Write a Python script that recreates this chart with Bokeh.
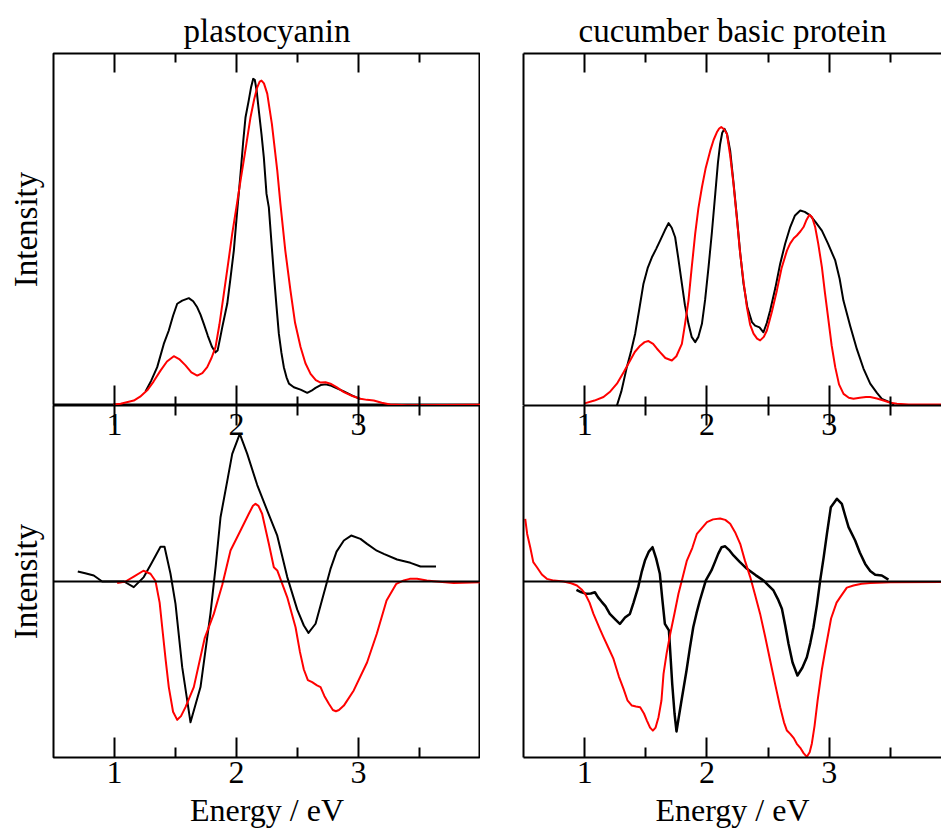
from bokeh.plotting import figure
from bokeh.models import LinearAxis, FixedTicker, Span, Range1d
from bokeh.layouts import column, row
from bokeh.embed import file_html
from bokeh.resources import INLINE

# ---------------- data ----------------
# x: energy / eV, y: intensity (arbitrary units)
panel_titles = ["plastocyanin", "cucumber basic protein"]
major_ticks = [1, 2, 3]
minor_ticks = [1.5, 2.5, 3.5]

# plastocyanin, absorption: experiment (black) and calculation (red)
pc_abs_exp_e = [1.254, 1.30, 1.35, 1.404, 1.445, 1.48, 1.514, 1.555, 1.609, 1.645, 1.678, 1.705, 1.732, 1.765,
                1.80, 1.828, 1.845, 1.865, 1.883, 1.924, 1.95, 1.978, 2.005, 2.033, 2.055, 2.074, 2.10, 2.12,
                2.137, 2.15, 2.165, 2.183, 2.205, 2.224, 2.246, 2.265, 2.285, 2.306, 2.327, 2.347, 2.368,
                2.388, 2.41, 2.43, 2.47, 2.525, 2.58, 2.615, 2.648, 2.69, 2.73, 2.77, 2.80, 2.88, 2.95, 3.016]
pc_abs_exp_i = [0.040, 0.070, 0.109, 0.175, 0.213, 0.255, 0.289, 0.298, 0.305, 0.296, 0.279, 0.258, 0.232, 0.198,
                0.166, 0.151, 0.156, 0.190, 0.222, 0.289, 0.360, 0.440, 0.550, 0.658, 0.750, 0.819, 0.866, 0.905,
                0.928, 0.925, 0.895, 0.838, 0.770, 0.705, 0.601, 0.563, 0.470, 0.374, 0.285, 0.204, 0.150,
                0.109, 0.080, 0.062, 0.052, 0.045, 0.036, 0.042, 0.050, 0.058, 0.060, 0.057, 0.052, 0.040, 0.028, 0.018]
pc_abs_calc_e = [0.99, 1.05, 1.10, 1.158, 1.21, 1.268, 1.32, 1.377, 1.43, 1.486, 1.53, 1.582, 1.63, 1.678, 1.72,
                 1.76, 1.795, 1.828, 1.86, 1.896, 1.93, 1.965, 2.0, 2.033, 2.075, 2.115, 2.145, 2.17, 2.19, 2.205,
                 2.225, 2.252, 2.29, 2.334, 2.36, 2.40, 2.443, 2.48, 2.525, 2.565, 2.607, 2.65, 2.689, 2.73, 2.77,
                 2.82, 2.88, 2.95, 3.016, 3.07, 3.125, 3.19, 3.26, 3.4, 4.0]
pc_abs_calc_i = [0.003, 0.005, 0.009, 0.014, 0.025, 0.043, 0.068, 0.099, 0.125, 0.140, 0.132, 0.114, 0.094, 0.085, 0.092,
                 0.109, 0.135, 0.166, 0.230, 0.317, 0.400, 0.488, 0.565, 0.639, 0.730, 0.819, 0.870, 0.904, 0.920, 0.923,
                 0.915, 0.886, 0.800, 0.668, 0.573, 0.440, 0.325, 0.235, 0.166, 0.120, 0.090, 0.072, 0.065, 0.066, 0.062,
                 0.052, 0.038, 0.027, 0.019, 0.016, 0.014, 0.008, 0.003, 0.001, 0.002]

# cucumber basic protein, absorption
cbp_abs_exp_e = [1.264, 1.30, 1.345, 1.38, 1.413, 1.445, 1.481, 1.515, 1.55, 1.585, 1.618, 1.655, 1.686, 1.712, 1.74,
                 1.765, 1.795, 1.82, 1.849, 1.875, 1.904, 1.93, 1.959, 1.985, 2.013, 2.04, 2.068, 2.09, 2.108, 2.125,
                 2.144, 2.165, 2.19, 2.215, 2.245, 2.27, 2.299, 2.33, 2.368, 2.394, 2.43, 2.462, 2.49, 2.517, 2.56,
                 2.599, 2.64, 2.681, 2.72, 2.763, 2.80, 2.844, 2.89, 2.94, 2.99, 3.049, 3.085, 3.116, 3.172, 3.226,
                 3.28, 3.335, 3.39, 3.43, 3.499, 3.53]
cbp_abs_exp_i = [0.0, 0.040, 0.109, 0.155, 0.204, 0.270, 0.346, 0.390, 0.421, 0.445, 0.469, 0.497, 0.518, 0.505, 0.478,
                 0.420, 0.346, 0.285, 0.232, 0.195, 0.180, 0.195, 0.232, 0.300, 0.393, 0.490, 0.601, 0.690, 0.743, 0.775,
                 0.786, 0.770, 0.724, 0.640, 0.535, 0.440, 0.346, 0.280, 0.237, 0.227, 0.222, 0.208, 0.235, 0.270, 0.335,
                 0.403, 0.460, 0.507, 0.540, 0.554, 0.550, 0.540, 0.520, 0.497, 0.460, 0.412, 0.360, 0.298, 0.225, 0.160,
                 0.105, 0.062, 0.036, 0.019, 0.009, 0.002]
cbp_abs_calc_e = [1.0, 1.08, 1.154, 1.21, 1.264, 1.32, 1.372, 1.41, 1.454, 1.49, 1.522, 1.56, 1.59, 1.618, 1.66, 1.713,
                  1.75, 1.795, 1.82, 1.849, 1.875, 1.904, 1.93, 1.959, 1.99, 2.027, 2.055, 2.081, 2.10, 2.117, 2.14,
                  2.163, 2.19, 2.217, 2.245, 2.272, 2.30, 2.327, 2.353, 2.381, 2.41, 2.435, 2.465, 2.49, 2.53, 2.572,
                  2.61, 2.654, 2.68, 2.71, 2.735, 2.765, 2.79, 2.815, 2.838, 2.86, 2.885, 2.91, 2.94, 2.965, 2.994,
                  3.02, 3.049, 3.08, 3.117, 3.16, 3.198, 3.25, 3.30, 3.335, 3.39, 3.444, 3.50, 3.553, 3.65, 3.918]
cbp_abs_calc_i = [0.006, 0.014, 0.024, 0.040, 0.062, 0.095, 0.128, 0.152, 0.170, 0.180, 0.183, 0.175, 0.162, 0.151, 0.135, 0.128,
                  0.140, 0.175, 0.230, 0.298, 0.390, 0.488, 0.560, 0.620, 0.675, 0.724, 0.755, 0.776, 0.787, 0.791, 0.785,
                  0.772, 0.710, 0.630, 0.530, 0.431, 0.350, 0.279, 0.230, 0.204, 0.190, 0.185, 0.195, 0.213, 0.265, 0.327,
                  0.390, 0.440, 0.460, 0.475, 0.483, 0.495, 0.507, 0.528, 0.542, 0.535, 0.507, 0.460, 0.393, 0.320, 0.241,
                  0.170, 0.109, 0.060, 0.033, 0.022, 0.019, 0.022, 0.024, 0.024, 0.020, 0.014, 0.008, 0.005, 0.003, 0.003]

# plastocyanin, signed spectra
pc_cd_exp_e = [0.699, 0.76, 0.83, 0.899, 1.077, 1.158, 1.24, 1.30, 1.377, 1.41, 1.459, 1.50, 1.555, 1.623, 1.705,
               1.787, 1.83, 1.869, 1.930, 1.965, 2.027, 2.088, 2.17, 2.252, 2.334, 2.416, 2.498, 2.552, 2.590,
               2.648, 2.70, 2.77, 2.82, 2.88, 2.940, 3.016, 3.07, 3.15, 3.207, 3.316, 3.426, 3.508, 3.635]
pc_cd_exp_i = [0.057, 0.047, 0.034, 0.0, 0.0, -0.032, 0.025, 0.100, 0.197, 0.197, 0.044, -0.127, -0.487, -0.800, -0.600,
               -0.180, 0.090, 0.365, 0.593, 0.725, 0.839, 0.725, 0.548, 0.403, 0.260, 0.025, -0.160, -0.250, -0.292,
               -0.240, -0.108, 0.070, 0.170, 0.233, 0.261, 0.242, 0.214, 0.175, 0.157, 0.125, 0.106, 0.085, 0.085]
pc_cd_calc_e = [1.022, 1.09, 1.158, 1.237, 1.295, 1.336, 1.37, 1.391, 1.42, 1.445, 1.48, 1.514, 1.545, 1.582, 1.65,
                1.74, 1.814, 1.883, 1.951, 1.992, 2.033, 2.101, 2.135, 2.156, 2.18, 2.21, 2.265, 2.306, 2.334, 2.416,
                2.484, 2.52, 2.552, 2.585, 2.62, 2.66, 2.689, 2.72, 2.757, 2.79, 2.815, 2.84, 2.88, 2.961, 3.07, 3.15,
                3.23, 3.31, 3.371, 3.42, 3.48, 3.56, 3.617, 3.78, 4.0]
pc_cd_calc_i = [-0.009, 0.0, 0.028, 0.061, 0.044, 0.003, -0.120, -0.260, -0.450, -0.600, -0.740, -0.786, -0.765, -0.714, -0.600,
                -0.320, -0.184, -0.020, 0.176, 0.233, 0.290, 0.385, 0.430, 0.441, 0.430, 0.385, 0.214, 0.081, 0.063, -0.090,
                -0.260, -0.400, -0.500, -0.560, -0.572, -0.590, -0.600, -0.650, -0.695, -0.730, -0.737, -0.730, -0.705,
                -0.619, -0.460, -0.297, -0.108, -0.013, 0.006, 0.015, 0.015, 0.006, 0.002, -0.009, -0.004]

# cucumber basic protein, signed spectra
cbp_cd_exp_e = [0.933, 0.97, 1.015, 1.05, 1.084, 1.11, 1.138, 1.17, 1.206, 1.25, 1.288, 1.33, 1.37, 1.40, 1.438, 1.465,
                1.493, 1.525, 1.555, 1.585, 1.615, 1.635, 1.656, 1.689, 1.70, 1.716, 1.735, 1.751, 1.77, 1.792, 1.833,
                1.86, 1.888, 1.915, 1.942, 1.991, 2.037, 2.065, 2.092, 2.12, 2.149, 2.18, 2.217, 2.27, 2.327, 2.40,
                2.462, 2.50, 2.544, 2.58, 2.613, 2.64, 2.667, 2.70, 2.74, 2.78, 2.817, 2.845, 2.871, 2.90, 2.926,
                2.955, 2.981, 3.013, 3.063, 3.103, 3.13, 3.158, 3.212, 3.25, 3.294, 3.335, 3.376, 3.43, 3.484]
cbp_cd_exp_i = [-0.047, -0.060, -0.070, -0.068, -0.061, -0.090, -0.114, -0.140, -0.184, -0.215, -0.241, -0.205, -0.184, -0.120,
                -0.032, 0.050, 0.119, 0.170, 0.195, 0.130, 0.044, -0.100, -0.241, -0.278, -0.400, -0.581, -0.750, -0.852,
                -0.770, -0.676, -0.506, -0.380, -0.260, -0.180, -0.108, 0.006, 0.063, 0.110, 0.157, 0.195, 0.200, 0.180,
                0.148, 0.110, 0.072, 0.035, 0.006, -0.020, -0.051, -0.100, -0.155, -0.250, -0.354, -0.460, -0.534, -0.490,
                -0.430, -0.350, -0.260, -0.130, 0.006, 0.140, 0.271, 0.422, 0.470, 0.441, 0.375, 0.309, 0.233, 0.165,
                0.100, 0.060, 0.038, 0.034, 0.011]
cbp_cd_calc_e = [0.514, 0.53, 0.555, 0.58, 0.61, 0.65, 0.691, 0.75, 0.827, 0.89, 0.937, 0.975, 1.004, 1.04, 1.072, 1.125,
                 1.154, 1.2, 1.236, 1.28, 1.318, 1.35, 1.386, 1.42, 1.454, 1.485, 1.509, 1.535, 1.558, 1.58, 1.604,
                 1.628, 1.645, 1.67, 1.70, 1.735, 1.767, 1.80, 1.836, 1.88, 1.918, 1.96, 2.0, 2.05, 2.108, 2.15, 2.19,
                 2.23, 2.272, 2.31, 2.354, 2.395, 2.435, 2.475, 2.517, 2.56, 2.599, 2.63, 2.654, 2.681, 2.71, 2.735,
                 2.763, 2.79, 2.817, 2.84, 2.858, 2.88, 2.905, 2.94, 2.967, 3.015, 3.06, 3.09, 3.144, 3.198, 3.265,
                 3.335, 3.50, 3.918]
cbp_cd_calc_i = [0.356, 0.270, 0.195, 0.110, 0.081, 0.040, 0.015, 0.005, 0.0, -0.010, -0.023, -0.045, -0.070, -0.120, -0.184, -0.270,
                 -0.316, -0.385, -0.440, -0.540, -0.610, -0.675, -0.705, -0.710, -0.714, -0.750, -0.790, -0.830, -0.847, -0.830,
                 -0.771, -0.676, -0.525, -0.410, -0.297, -0.180, -0.070, 0.020, 0.119, 0.190, 0.271, 0.305, 0.337, 0.353, 0.358,
                 0.350, 0.328, 0.280, 0.214, 0.120, 0.025, -0.080, -0.184, -0.310, -0.449, -0.590, -0.714, -0.800, -0.847,
                 -0.866, -0.890, -0.922, -0.945, -0.975, -0.996, -0.970, -0.920, -0.820, -0.676, -0.500, -0.392, -0.210,
                 -0.120, -0.089, -0.035, -0.023, -0.013, -0.009, -0.004, -0.003]

# ---------------- styling / layout ----------------
FONT = "Liberation Serif"
FS_TICK = "32px"
FS_LABEL = "33px"
LEFT_X = (0.5, 4.0)
RIGHT_X = (0.5, 3.918)
TOP_Y = (0.0, 1.0)
BOT_Y = (-1.0, 1.0)


def tick_marks(p, side, loc, length_major, length_minor, inward, line=False):
    """Two label-free axes: one for the long ticks at 1,2,3 and one for the short ones.
    loc=None puts them on the frame edge (side panel), otherwise at a fixed location."""
    for ticks, length in ((major_ticks, length_major), (minor_ticks, length_minor)):
        kw = dict(minor_tick_in=length, minor_tick_out=0) if inward else dict(minor_tick_in=0, minor_tick_out=length)
        ax = LinearAxis(ticker=FixedTicker(ticks=[], minor_ticks=ticks), fixed_location=loc,
                        major_tick_in=0, major_tick_out=0, major_label_standoff=0,
                        minor_tick_line_width=2, minor_tick_line_color="black",
                        axis_line_width=2, axis_line_color="black" if line else None, **kw)
        p.add_layout(ax, side)
        line = False


def label_axis(p, loc, standoff):
    ax = LinearAxis(ticker=FixedTicker(ticks=major_ticks), fixed_location=loc,
                    major_tick_in=0, major_tick_out=0, minor_tick_in=0, minor_tick_out=0,
                    axis_line_color=None, major_tick_line_color=None, minor_tick_line_color=None,
                    major_label_text_font=FONT, major_label_text_font_size=FS_TICK,
                    major_label_text_color="black", major_label_standoff=standoff)
    p.add_layout(ax, "below")


def intensity_axis(p):
    ax = LinearAxis(ticker=FixedTicker(ticks=[]), axis_label="Intensity",
                    axis_label_text_font=FONT, axis_label_text_font_size=FS_LABEL,
                    axis_label_text_font_style="normal", axis_label_text_color="black",
                    axis_label_standoff=10, major_label_standoff=0,
                    major_tick_in=0, major_tick_out=0, minor_tick_in=0, minor_tick_out=0,
                    axis_line_color=None)
    p.add_layout(ax, "left")


def left_edge(p):
    ax = LinearAxis(ticker=FixedTicker(ticks=[]), major_label_standoff=0,
                    major_tick_in=0, major_tick_out=0, minor_tick_in=0, minor_tick_out=0,
                    axis_line_width=2, axis_line_color="black")
    p.add_layout(ax, "left")


def make_fig(xr, yr, fw, bl, bt, bb, title=None):
    p = figure(frame_width=fw, frame_height=352, x_range=Range1d(*xr), y_range=Range1d(*yr),
               x_axis_type=None, y_axis_type=None, output_backend="svg", toolbar_location=None,
               min_border_left=bl, min_border_right=0, min_border_top=bt, min_border_bottom=bb,
               background_fill_color="white", border_fill_color="white")
    if title is not None:
        p.title.text = title
        p.title.text_font = FONT
        p.title.text_font_size = FS_LABEL
        p.title.text_font_style = "normal"
        p.title.text_color = "black"
        p.title.align = "center"
        p.title.standoff = 10
    return p


def add_lines(p, e1, i1, e2, i2, w1=2, w2=2):
    p.line(e1, i1, line_color="black", line_width=w1, line_join="round")
    p.line(e2, i2, line_color="#ff0000", line_width=w2, line_join="round")


# top-left
tl = make_fig(LEFT_X, TOP_Y, 427, 53, 53, 0, title=panel_titles[0])
tl.outline_line_color = "black"
tl.outline_line_width = 2
intensity_axis(tl)
tick_marks(tl, "above", TOP_Y[1], 19, 9, inward=True)
tick_marks(tl, "below", TOP_Y[0], 20, 9, inward=True)
add_lines(tl, pc_abs_exp_e, pc_abs_exp_i, pc_abs_calc_e, pc_abs_calc_i)

# top-right (its right edge lies beyond the picture, so only three sides are drawn)
tr = make_fig(RIGHT_X, TOP_Y, 418, 43, 53, 0, title=panel_titles[1])
tr.outline_line_color = None
tick_marks(tr, "above", None, 19, 9, inward=True, line=True)
tick_marks(tr, "below", None, 20, 9, inward=True, line=True)
left_edge(tr)
add_lines(tr, cbp_abs_exp_e, cbp_abs_exp_i, cbp_abs_calc_e, cbp_abs_calc_i)


def bottom_axes(p, fixed_top):
    # ticks hanging from the shared edge, and the upper panel's tick labels
    if fixed_top:
        tick_marks(p, "below", BOT_Y[1], 20, 10, inward=False)
        tick_marks(p, "below", BOT_Y[0], 20, 10, inward=True)
    else:
        tick_marks(p, "above", None, 20, 10, inward=True, line=True)
        tick_marks(p, "below", None, 20, 10, inward=True, line=True)
    label_axis(p, BOT_Y[1], 8)
    ax = LinearAxis(ticker=FixedTicker(ticks=major_ticks), major_tick_in=0, major_tick_out=0,
                    minor_tick_in=0, minor_tick_out=0, axis_line_color=None,
                    major_label_text_font=FONT, major_label_text_font_size=FS_TICK,
                    major_label_text_color="black", major_label_standoff=4,
                    axis_label="Energy / eV", axis_label_text_font=FONT,
                    axis_label_text_font_size=FS_TICK, axis_label_text_font_style="normal",
                    axis_label_text_color="black", axis_label_standoff=6)
    p.add_layout(ax, "below")
    p.add_layout(Span(location=0, dimension="width", line_color="black", line_width=2))


# bottom-left
bl = make_fig(LEFT_X, BOT_Y, 427, 53, 0, 0)
bl.outline_line_color = "black"
bl.outline_line_width = 2
intensity_axis(bl)
bottom_axes(bl, True)
add_lines(bl, pc_cd_exp_e, pc_cd_exp_i, pc_cd_calc_e, pc_cd_calc_i)

# bottom-right
br = make_fig(RIGHT_X, BOT_Y, 418, 43, 0, 0)
br.outline_line_color = None
bottom_axes(br, False)
left_edge(br)
add_lines(br, cbp_cd_exp_e, cbp_cd_exp_i, cbp_cd_calc_e, cbp_cd_calc_i, w1=2.5)

layout = column(row(tl, tr), row(bl, br))
open("out.html", "w").write(file_html(layout, INLINE))
